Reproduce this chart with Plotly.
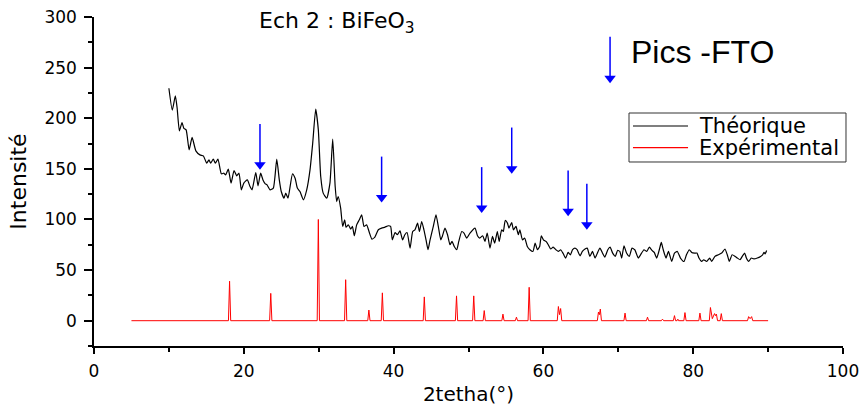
import plotly.graph_objects as go

# ---------------- data ----------------
theo_x = [10.0, 10.45, 10.86, 11.1, 11.4, 11.75, 12.0, 12.3, 12.7, 13.1, 13.6, 14.15, 14.6, 15.05, 15.35,
          15.57, 15.93, 16.2, 16.55, 17.0, 17.35, 17.57, 17.93, 18.3, 18.7, 19.05, 19.36, 19.67, 20.0,
          20.47, 20.83, 21.1, 21.6, 21.9, 22.25, 22.56, 22.87, 23.1, 23.5, 23.94, 24.4, 24.74, 25.0,
          25.37, 25.6, 25.9, 26.5, 26.85, 27.15, 27.5, 27.95, 28.4, 28.84, 29.2, 29.6, 29.95, 30.27,
          30.6, 31.07, 31.5, 31.87, 32.2, 32.4, 32.6, 32.93, 33.2, 33.47, 33.65, 33.96, 34.27, 34.5,
          34.76, 35.07, 35.42, 35.74, 36.05, 36.4, 36.76, 37.1, 37.5, 37.96, 38.4, 38.85, 39.3, 39.6,
          39.83, 40.2, 40.5, 40.85, 41.2, 41.5, 41.8, 42.2, 42.55, 42.85, 43.2, 43.45, 43.75, 44.05,
          44.33, 44.6, 44.87, 45.3, 45.66, 45.97, 46.3, 46.5, 46.86, 47.2, 47.53, 47.8, 48.1, 48.43,
          48.7, 49.1, 49.4, 49.76, 50.2, 50.87, 51.2, 51.5, 51.9, 52.2, 52.5, 52.87, 53.2, 53.5,
          53.85, 54.1, 54.43, 54.65, 54.9, 55.2, 55.4, 55.77, 56.0, 56.34, 56.65, 56.86, 57.2, 57.5,
          57.85, 58.2, 58.6, 58.9, 59.2, 59.5, 59.72, 60.0, 60.35, 60.65, 60.97, 61.3, 61.67, 62.0,
          62.3, 62.66, 62.97, 63.3, 63.6, 63.9, 64.2, 64.5, 64.9, 65.2, 65.55, 65.85, 66.2, 66.55,
          66.9, 67.2, 67.55, 67.9, 68.2, 68.6, 68.9, 69.25, 69.6, 69.9, 70.2, 70.45, 70.76, 71.1,
          71.47, 71.83, 72.2, 72.67, 72.97, 73.43, 73.8, 74.14, 74.5, 74.8, 75.13, 75.5, 75.74, 76.0,
          76.37, 76.7, 77.13, 77.5, 77.88, 78.3, 78.77, 79.1, 79.48, 79.8, 80.2, 80.5, 80.77, 81.13,
          81.4, 81.8, 82.2, 82.47, 82.9, 83.35, 83.8, 84.24, 84.55, 84.82, 85.2, 85.6, 85.9, 86.25,
          86.55, 86.87, 87.1, 87.4, 87.76, 88.1, 88.56, 89.0, 89.27, 89.45, 89.6, 89.8]
theo_y = [229.6, 208, 222, 210, 187.5, 195.7, 190, 188.5, 168.7, 181, 167.8, 163.8, 162.8, 155.6, 158.9,
          155.6, 159.6, 155.6, 159.6, 145.1, 145.7, 144, 149.7, 135.9, 148.3, 143.1, 145.7, 129.3, 135.9,
          139.1, 132.5, 129.3, 146.4, 133.2, 145.7, 139.1, 135.2, 134.2, 129.3, 130.9, 159.6, 139.1, 127.6,
          121, 126, 121, 145.1, 140.8, 131, 127.6, 119.4, 129.3, 149, 175.4, 208.9, 188.5, 142.4,
          126, 121, 135.9, 179.3, 132.5, 117.7, 122.7, 111.2, 93.1, 99.7, 92.4, 94.7, 90.5, 93.1,
          83.9, 94.7, 99.7, 104.6, 93.1, 94.7, 87.1, 80.6, 82.6, 89.8, 91.5, 92.4, 93.8, 93.1,
          79.9, 87.1, 84.9, 88.8, 79.9, 84.9, 87.1, 71.7, 88.1, 89.8, 96.4, 88.1, 98, 89.8,
          79.9, 70.1, 79.9, 93.1, 104.6, 93.1, 79.9, 83.2, 91.5, 84.9, 75, 78.3, 73.3, 70.1,
          78.3, 88.1, 86.5, 81.6, 86.5, 91.5, 83.9, 81.6, 83.9, 78.3, 86.5, 71.7, 83.2, 76.7,
          88.1, 78.3, 89.8, 88.1, 99, 96.4, 91.5, 97, 89.8, 93.1, 84.9, 89.8, 79.9, 81.6,
          73.3, 70.1, 68.4, 76.7, 70.1, 73.3, 83.9, 79.9, 78.3, 75, 70.8, 72.7, 70.1, 68.4,
          70.1, 66.1, 61.9, 67.4, 65.1, 70.1, 71.7, 70.1, 64.1, 68.4, 70.8, 71.7, 63.5, 68.4,
          61.9, 66.7, 71.7, 66.7, 62.8, 70.1, 72.7, 66.7, 63.5, 69.4, 68.5, 61.9, 74, 66.8,
          63.5, 71.7, 70.1, 61.9, 65.1, 70.1, 68.4, 72.7, 69.4, 67.4, 61.9, 70.8, 77.3, 70.1,
          61.9, 68.4, 58.5, 66.8, 68.4, 61.9, 58.5, 65.1, 70.1, 67.4, 66.8, 66.8, 61.9, 58.5,
          60.2, 58.5, 61.9, 58.5, 63.5, 65.1, 66.8, 70.8, 65.1, 58.5, 65.1, 63.5, 61.9, 60.2,
          63.5, 66.8, 61.9, 58.5, 61.9, 61, 61.9, 63.5, 65.1, 67.4, 66, 69.4]

exp_x = [5.0,
         17.95, 18.1, 18.25, 23.45, 23.6, 23.75, 29.8, 29.95, 30.1, 33.45, 33.6, 33.75,
         36.55, 36.7, 36.85, 38.35, 38.5, 38.65, 43.95, 44.1, 44.25, 48.25, 48.4, 48.55,
         50.55, 50.7, 50.85, 51.95, 52.1, 52.25, 54.45, 54.6, 54.75, 56.25, 56.4, 56.55,
         57.95, 58.1, 58.25, 61.85, 62.0, 62.15, 62.3, 62.45, 67.2, 67.35, 67.48, 67.6, 67.75,
         70.75, 70.9, 71.05, 73.75, 73.9, 74.05, 75.75, 75.9, 76.05, 77.35, 77.5, 77.65,
         77.85, 77.95, 78.05, 78.75, 78.9, 79.05, 80.75, 80.9, 81.05, 82.15, 82.3, 82.55,
         82.85, 82.98, 83.1, 83.25, 83.6, 83.75, 83.9, 87.25, 87.4, 87.6, 87.8, 87.95,
         90.0]
exp_y = [0,
         0, 39, 0, 0, 27, 0, 0, 100, 0, 0, 40.5, 0,
         0, 10.5, 0, 0, 27.5, 0, 0, 23.5, 0, 0, 24.5, 0,
         0, 24.5, 0, 0, 10, 0, 0, 6.5, 0, 0, 3.5, 0,
         0, 33, 0, 0, 14, 6, 12, 0, 0, 8.5, 6, 11.5, 0,
         0, 7.5, 0, 0, 3.5, 0, 0, 1.5, 0, 0, 5, 0,
         0, 1.5, 0, 0, 8, 0, 0, 7.5, 0, 0, 13, 2,
         7, 5, 6.5, 0, 0, 7, 0, 0, 4, 2, 4, 0,
         0]

# FTO arrows (last one is the key arrow next to "Pics -FTO"): x, tail y, tip y
arrow_x = [22.16, 38.4, 51.76, 55.77, 63.3, 65.8, 68.9]
arrow_top = [194.4, 162.1, 151.7, 190.8, 148.3, 135.2, 280.6]
arrow_tip = [149.0, 116.7, 106.3, 145.0, 103.0, 89.8, 234.6]

x_ticks = [0, 20, 40, 60, 80, 100]
y_ticks = [0, 50, 100, 150, 200, 250, 300]

series_names = ["Théorique", "Expérimental"]
series_colors = ["black", "red"]

FONT = "DejaVu Sans"
HEAD = 5  # arrow-head marker centre offset above tip (data units)

fig = go.Figure()
fig.add_trace(go.Scatter(x=theo_x, y=theo_y, mode="lines", name=series_names[0], showlegend=False,
                         line=dict(color=series_colors[0], width=1.2, shape="spline", smoothing=0.5)))
fig.add_trace(go.Scatter(x=exp_x, y=exp_y, mode="lines", name=series_names[1], showlegend=False,
                         line=dict(color=series_colors[1], width=1)))

# arrow shafts
shaft_x, shaft_y = [], []
for xa, yt, yb in zip(arrow_x, arrow_top, arrow_tip):
    shaft_x += [xa, xa, None]
    shaft_y += [yt, yb + HEAD, None]
fig.add_trace(go.Scatter(x=shaft_x, y=shaft_y, mode="lines", showlegend=False, hoverinfo="skip",
                         line=dict(color="blue", width=1.5)))
# arrow heads
fig.add_trace(go.Scatter(x=arrow_x, y=[t + HEAD for t in arrow_tip], mode="markers", showlegend=False,
                         hoverinfo="skip",
                         marker=dict(symbol="triangle-down", size=10, color="blue", line=dict(width=0))))

annotations = [
    dict(x=71.4, y=265.5, xref="x", yref="y", xanchor="left", yanchor="middle",
         text="Pics -FTO", showarrow=False,
         font=dict(family="Liberation Sans", size=32, color="black")),
    dict(x=21.8, y=295, xref="x", yref="y", xanchor="left", yanchor="middle",
         text="Ech 2 : BiFeO<sub>3</sub>", showarrow=False,
         font=dict(family=FONT, size=22, color="black")),
]

# manual legend box (paper coordinates)
shapes = [dict(type="rect", xref="paper", yref="paper", x0=0.7143, x1=1.004, y0=0.5593, y1=0.7082,
               line=dict(color="#333", width=1), fillcolor="white", layer="above")]
legend_rows_y = [0.6687, 0.6027]
for name, col, ry in zip(series_names, series_colors, legend_rows_y):
    shapes.append(dict(type="line", xref="paper", yref="paper", x0=0.7196, x1=0.7931, y0=ry, y1=ry,
                       line=dict(color=col, width=1.2), layer="above"))
    annotations.append(dict(x=0.8051, y=ry, xref="paper", yref="paper", xanchor="left",
                            yanchor="middle", text=name, showarrow=False,
                            font=dict(family=FONT, size=21, color="black")))

fig.update_layout(
    width=863, height=406,
    margin=dict(l=94, r=20, t=17, b=60),
    paper_bgcolor="white", plot_bgcolor="white",
    font=dict(family=FONT, size=17, color="black"),
    annotations=annotations,
    shapes=shapes,
    showlegend=False,
)
fig.update_xaxes(range=[0, 100], tickvals=x_ticks, showgrid=False, zeroline=False, automargin=False,
                 showline=True, linecolor="black", linewidth=1.5, ticks="outside",
                 ticklen=6, tickwidth=1.5, tickcolor="black",
                 minor=dict(dtick=10, ticks="outside", ticklen=4, tickwidth=1.5, tickcolor="black"),
                 ticklabelstandoff=3,
                 title=dict(text="2tetha(°)", font=dict(family=FONT, size=20), standoff=8))
fig.update_yaxes(range=[-25, 300], tickvals=y_ticks, showgrid=False, zeroline=False, automargin=False,
                 showline=True, linecolor="black", linewidth=1.5, ticks="outside",
                 ticklen=8, tickwidth=1.5, tickcolor="black",
                 minor=dict(dtick=25, ticks="outside", ticklen=4, tickwidth=1.5, tickcolor="black"),
                 ticklabelstandoff=4,
                 title=dict(text="Intensité", font=dict(family=FONT, size=22), standoff=12))

fig.write_html("out.html")
